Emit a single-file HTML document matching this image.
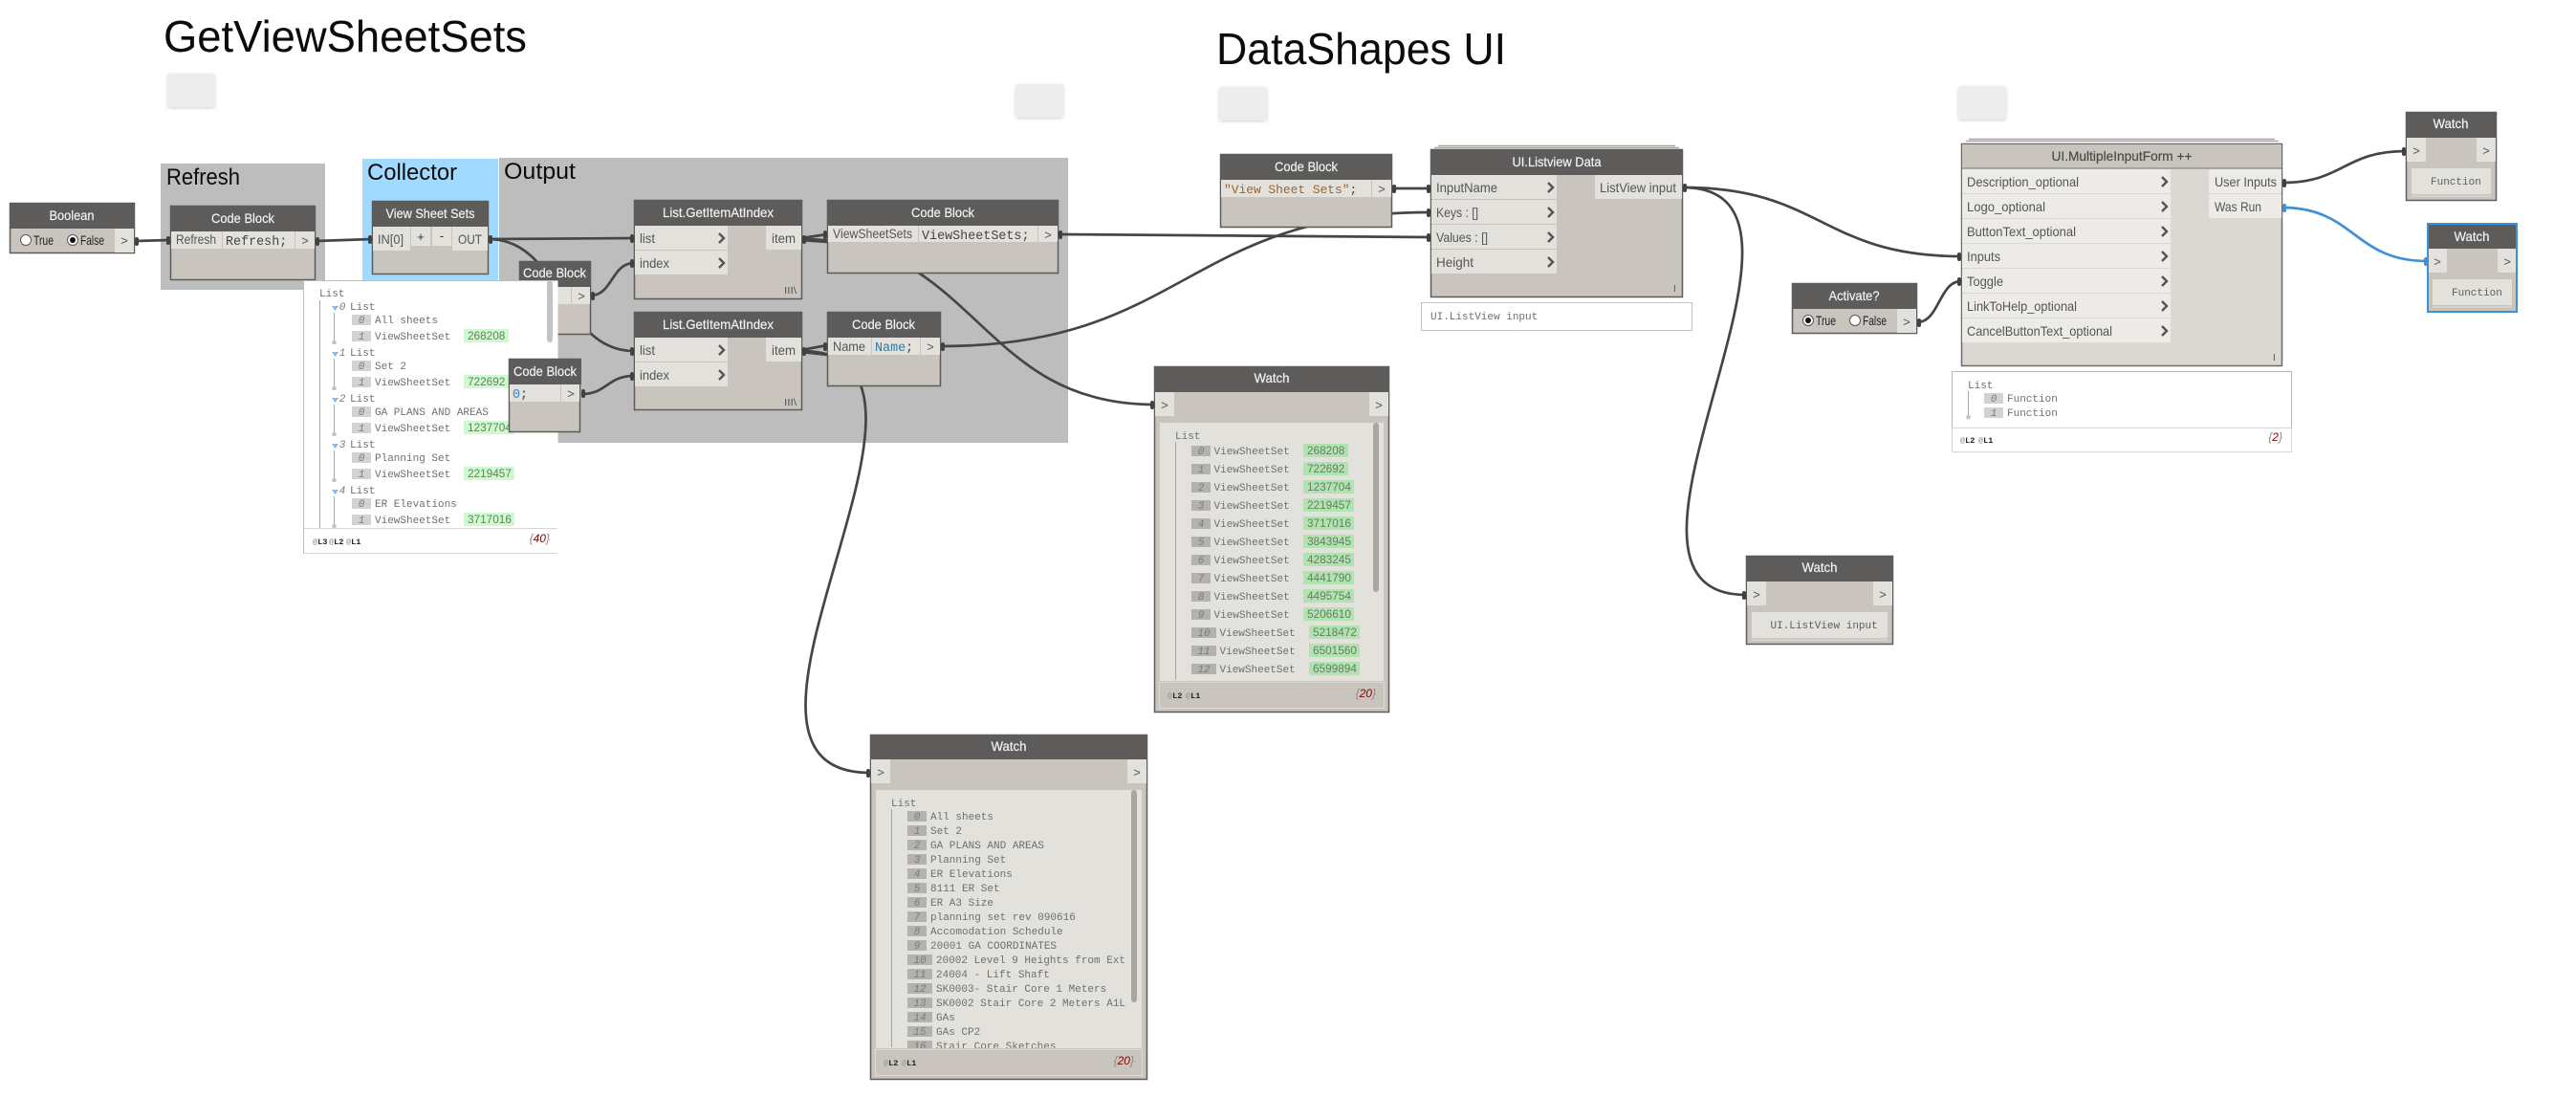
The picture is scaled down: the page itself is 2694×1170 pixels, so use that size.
<!DOCTYPE html>
<html><head><meta charset="utf-8"><title>GetViewSheetSets</title>
<style>
html,body{margin:0;padding:0;background:#fff;overflow:hidden}
svg{display:block}
text{white-space:pre}
.t{font:46px "Liberation Sans",sans-serif;fill:#0c0c0c}
.g{font:24px "Liberation Sans",sans-serif;fill:#0c0c0c}
.h{font:14px "Liberation Sans",sans-serif;fill:#f2f2f2;text-anchor:middle;stroke:#f2f2f2;stroke-width:.2}
.p{font:14px "Liberation Sans",sans-serif;fill:#555}
.a{font:13px "Liberation Sans",sans-serif;fill:#555;text-anchor:middle}
.c{font:13.4px "Liberation Mono",monospace;fill:#444}
.m{font:11px "Liberation Mono",monospace;fill:#6f6f6f}
.n{font:italic 11px "Liberation Mono",monospace;fill:#7a7a7a;text-anchor:middle}
.v{font:11.8px "Liberation Sans",sans-serif;fill:#6a7a6a}
.l{font:bold 8.5px "Liberation Mono",monospace;fill:#222}
.r{font:italic 12px "Liberation Sans",sans-serif;fill:#8b0000;text-anchor:end}
.b{fill:#c9c5be;stroke:#5e5c5a;stroke-width:1.5}
.hd{fill:#5e5c5a}
.e{fill:#e3e1dc}
.w{fill:none;stroke:#454545;stroke-width:2.7}
.pin{fill:#414141}
.chev{fill:none;stroke:#555;stroke-width:2.4}
.bx{fill:#b4b2ae}
.bxl{fill:#d2d2d2}
.gr{fill:#b0e4ae}
.grl{fill:#ccfccc}
.ln{stroke:#a5a5a5;stroke-width:1;fill:none}
</style></head><body>
<svg width="2694" height="1170" viewBox="0 0 2694 1170" xmlns="http://www.w3.org/2000/svg">
<defs>
<filter id="s" x="-20%" y="-20%" width="140%" height="140%"><feDropShadow dx="0" dy="1" stdDeviation="1.5" flood-color="#000" flood-opacity=".18"/></filter>
<clipPath id="c1"><rect x="318" y="294" width="265" height="258"/></clipPath>
<clipPath id="c2"><rect x="916" y="826" width="278" height="270"/></clipPath>
</defs>

<!-- titles -->
<text class="t" x="171" y="54" textLength="380" lengthAdjust="spacingAndGlyphs">GetViewSheetSets</text>
<text class="t" x="1272" y="67" textLength="303" lengthAdjust="spacingAndGlyphs">DataShapes UI</text>
<rect x="175" y="77" width="50" height="35" rx="3" fill="#ededed" filter="url(#s)"/>
<rect x="1062" y="88" width="50" height="35" rx="3" fill="#ededed" filter="url(#s)"/>
<rect x="1275" y="91" width="50" height="35" rx="3" fill="#ededed" filter="url(#s)"/>
<rect x="2048" y="90" width="50" height="35" rx="3" fill="#ededed" filter="url(#s)"/>

<!-- groups -->
<rect x="168" y="171" width="172" height="132" fill="#bdbdbd"/>
<rect x="379" y="166" width="142" height="128" fill="#a2d9fe"/>
<rect x="522" y="165" width="595" height="298" fill="#bdbdbd"/>
<text class="g" x="174" y="193" textLength="77" lengthAdjust="spacingAndGlyphs">Refresh</text>
<text class="g" x="384" y="188" textLength="94" lengthAdjust="spacingAndGlyphs">Collector</text>
<text class="g" x="527" y="187" textLength="75" lengthAdjust="spacingAndGlyphs">Output</text>

<!-- wires -->
<path class="w" d="M141 252 L178 251"/>
<path class="w" d="M330 252 L389 250"/>
<path class="w" d="M511 250 L663 249"/>
<path class="w" d="M511 250 C587 250 587 367 663 367"/>
<path class="w" d="M618 309 C640 309 640 275 663 275"/>
<path class="w" d="M608 412 C635 412 635 393 663 393"/>
<path class="w" d="M838 249 L865 245"/>
<path class="w" d="M838 251 L866 253"/>
<path class="w" d="M838 366 L865 361"/>
<path class="w" d="M838 368 L866 371"/>
<path class="w" d="M1107 245 L1495 248"/>
<path class="w" d="M838 250 C1022 250 1022 423 1207 423"/>
<path class="w" d="M984 362 C1239 362 1240 222 1495 222"/>
<path class="w" d="M838 367 C1038 367 710 808 910 808"/>
<path class="w" d="M1456 197 L1496 197"/>
<path class="w" d="M1760 196 C1905 196 1905 268 2051 268"/>
<path class="w" d="M1760 196 C1944 196 1642 622 1826 622"/>
<path class="w" d="M2005 337 C2028 337 2028 294 2051 294"/>
<path class="w" d="M2387 191 C2451 191 2451 158 2516 158"/>
<path class="w" d="M2387 217 C2462 217 2462 273 2538 273" style="stroke:#3e90d9"/>

<!-- Boolean -->
<rect class="b" x="10.5" y="212.5" width="130" height="52"/><rect class="hd" x="10" y="212" width="131" height="27"/>
<text class="h" x="75" y="230" textLength="47" lengthAdjust="spacingAndGlyphs">Boolean</text>
<circle cx="27" cy="251" r="5.5" fill="#fff" stroke="#555"/><text class="p" x="35" y="256" textLength="21" lengthAdjust="spacingAndGlyphs" style="fill:#222">True</text>
<circle cx="76" cy="251" r="5.5" fill="#fff" stroke="#555"/><circle cx="76" cy="251" r="3" fill="#111"/><text class="p" x="84" y="256" textLength="25" lengthAdjust="spacingAndGlyphs" style="fill:#222">False</text>
<rect class="e" x="120" y="239" width="20" height="25"/><text class="a" x="130" y="256">&gt;</text>

<!-- Code Block Refresh -->
<rect class="b" x="178.5" y="215.5" width="151" height="77"/><rect class="hd" x="178" y="215" width="152" height="27"/>
<text class="h" x="254" y="233" textLength="66" lengthAdjust="spacingAndGlyphs">Code Block</text>
<rect class="e" x="179" y="242" width="53" height="18"/><rect class="e" x="233" y="242" width="75" height="18"/><rect class="e" x="309" y="242" width="20" height="18"/>
<text class="p" x="184" y="255" textLength="42" lengthAdjust="spacingAndGlyphs">Refresh</text>
<text class="c" x="236" y="256">Refresh;</text><text class="a" x="319" y="256">&gt;</text>

<!-- View Sheet Sets -->
<rect class="b" x="389.5" y="210.5" width="121" height="76"/><rect class="hd" x="389" y="210" width="122" height="27"/>
<text class="h" x="450" y="228" textLength="93" lengthAdjust="spacingAndGlyphs">View Sheet Sets</text>
<rect class="e" x="390" y="237" width="39" height="25"/><rect class="e" x="430" y="237" width="20" height="20"/><rect class="e" x="452" y="237" width="20" height="20"/><rect class="e" x="473" y="237" width="37" height="25"/>
<text class="p" x="395" y="255" textLength="27" lengthAdjust="spacingAndGlyphs">IN[0]</text>
<text class="a" x="440" y="252" style="fill:#333">+</text><text class="a" x="462" y="251" style="fill:#333">-</text>
<text class="p" x="479" y="255" textLength="25" lengthAdjust="spacingAndGlyphs">OUT</text>

<!-- hidden Code Block -->
<rect class="b" x="543.5" y="273.5" width="74" height="76"/><rect class="hd" x="543" y="273" width="75" height="27"/>
<text class="h" x="580" y="290" textLength="66" lengthAdjust="spacingAndGlyphs">Code Block</text>
<rect class="e" x="560" y="300" width="37" height="18"/><rect class="e" x="598" y="300" width="19" height="18"/><text class="a" x="608" y="314">&gt;</text>

<!-- List.GetItemAtIndex 1 -->
<rect class="b" x="663.5" y="209.5" width="175" height="103"/><rect class="hd" x="663" y="209" width="176" height="27"/>
<text class="h" x="751" y="227" textLength="116" lengthAdjust="spacingAndGlyphs">List.GetItemAtIndex</text>
<rect class="e" x="664" y="236" width="97" height="25"/><rect class="e" x="664" y="262" width="97" height="25"/><rect class="e" x="801" y="236" width="37" height="25"/>
<text class="p" x="669" y="254" textLength="16" lengthAdjust="spacingAndGlyphs">list</text>
<text class="p" x="669" y="280" textLength="31" lengthAdjust="spacingAndGlyphs">index</text>
<text class="p" x="807" y="254" textLength="25" lengthAdjust="spacingAndGlyphs">item</text>
<path class="chev" d="M752 244 l5 5 -5 5"/><path class="chev" d="M752 270 l5 5 -5 5"/>
<text class="p" x="820" y="307" style="font-size:10px" textLength="13" lengthAdjust="spacingAndGlyphs">III\</text>

<!-- List.GetItemAtIndex 2 -->
<rect class="b" x="663.5" y="326.5" width="175" height="102"/><rect class="hd" x="663" y="326" width="176" height="27"/>
<text class="h" x="751" y="344" textLength="116" lengthAdjust="spacingAndGlyphs">List.GetItemAtIndex</text>
<rect class="e" x="664" y="353" width="97" height="25"/><rect class="e" x="664" y="379" width="97" height="25"/><rect class="e" x="801" y="353" width="37" height="25"/>
<text class="p" x="669" y="371" textLength="16" lengthAdjust="spacingAndGlyphs">list</text>
<text class="p" x="669" y="397" textLength="31" lengthAdjust="spacingAndGlyphs">index</text>
<text class="p" x="807" y="371" textLength="25" lengthAdjust="spacingAndGlyphs">item</text>
<path class="chev" d="M752 361 l5 5 -5 5"/><path class="chev" d="M752 387 l5 5 -5 5"/>
<text class="p" x="820" y="424" style="font-size:10px" textLength="13" lengthAdjust="spacingAndGlyphs">III\</text>

<!-- Code Block ViewSheetSets -->
<rect class="b" x="865.5" y="209.5" width="241" height="76"/><rect class="hd" x="865" y="209" width="242" height="27"/>
<text class="h" x="986" y="227" textLength="66" lengthAdjust="spacingAndGlyphs">Code Block</text>
<rect class="e" x="866" y="236" width="94" height="17"/><rect class="e" x="961" y="236" width="124" height="17"/><rect class="e" x="1086" y="236" width="20" height="17"/>
<text class="p" x="871" y="249" textLength="83" lengthAdjust="spacingAndGlyphs">ViewSheetSets</text>
<text class="c" x="964" y="250">ViewSheetSets;</text><text class="a" x="1096" y="250">&gt;</text>

<!-- Code Block Name -->
<rect class="b" x="865.5" y="326.5" width="118" height="77"/><rect class="hd" x="865" y="326" width="119" height="27"/>
<text class="h" x="924" y="344" textLength="66" lengthAdjust="spacingAndGlyphs">Code Block</text>
<rect class="e" x="866" y="353" width="45" height="18"/><rect class="e" x="912" y="353" width="50" height="18"/><rect class="e" x="963" y="353" width="20" height="18"/>
<text class="p" x="871" y="367" textLength="34" lengthAdjust="spacingAndGlyphs">Name</text>
<text class="c" x="915" y="367"><tspan fill="#2f7a9e">Name</tspan>;</text><text class="a" x="973" y="367">&gt;</text>

<!-- left preview -->
<rect x="317.5" y="293.5" width="266" height="285" fill="#fff"/>
<path d="M583 293.5 H317.5 V578.5 H583" fill="none" stroke="#bdbdbd"/>
<path d="M318 552.5 H583" stroke="#d5d5d5"/><path d="M318 578.5 H583" stroke="#d5d5d5"/>
<g clip-path="url(#c1)">
<text class="m" x="334" y="310">List</text><path class="ln" d="M334.500 314 V552"/>
<g id="g0"><polygon points="347,320 354,320 350.500,325" fill="#8db8de"/><text class="n" x="358" y="324">0</text><text class="m" x="366" y="324">List</text><path class="ln" d="M349.500 327 V358"/><circle cx="349.500" cy="358" r="2.300" fill="#c0c0c0"/><rect class="bxl" x="368" y="329" width="20" height="11"/><text class="n" x="378" y="338">0</text><text class="m" x="392" y="338">All sheets</text><rect class="bxl" x="368" y="346" width="20" height="11"/><text class="n" x="378" y="355">1</text><text class="m" x="392" y="355">ViewSheetSet</text><rect class="grl" x="485" y="344" width="47" height="14"/><text class="v" x="489" y="355">268208</text></g>
<g><polygon points="347,368 354,368 350.500,373" fill="#8db8de"/><text class="n" x="358" y="372">1</text><text class="m" x="366" y="372">List</text><path class="ln" d="M349.500 375 V406"/><circle cx="349.500" cy="406" r="2.300" fill="#c0c0c0"/><rect class="bxl" x="368" y="377" width="20" height="11"/><text class="n" x="378" y="386">0</text><text class="m" x="392" y="386">Set 2</text><rect class="bxl" x="368" y="394" width="20" height="11"/><text class="n" x="378" y="403">1</text><text class="m" x="392" y="403">ViewSheetSet</text><rect class="grl" x="485" y="392" width="47" height="14"/><text class="v" x="489" y="403">722692</text></g>
<g><polygon points="347,416 354,416 350.500,421" fill="#8db8de"/><text class="n" x="358" y="420">2</text><text class="m" x="366" y="420">List</text><path class="ln" d="M349.500 423 V454"/><circle cx="349.500" cy="454" r="2.300" fill="#c0c0c0"/><rect class="bxl" x="368" y="425" width="20" height="11"/><text class="n" x="378" y="434">0</text><text class="m" x="392" y="434">GA PLANS AND AREAS</text><rect class="bxl" x="368" y="442" width="20" height="11"/><text class="n" x="378" y="451">1</text><text class="m" x="392" y="451">ViewSheetSet</text><rect class="grl" x="485" y="440" width="53" height="14"/><text class="v" x="489" y="451">1237704</text></g>
<g><polygon points="347,464 354,464 350.500,469" fill="#8db8de"/><text class="n" x="358" y="468">3</text><text class="m" x="366" y="468">List</text><path class="ln" d="M349.500 471 V502"/><circle cx="349.500" cy="502" r="2.300" fill="#c0c0c0"/><rect class="bxl" x="368" y="473" width="20" height="11"/><text class="n" x="378" y="482">0</text><text class="m" x="392" y="482">Planning Set</text><rect class="bxl" x="368" y="490" width="20" height="11"/><text class="n" x="378" y="499">1</text><text class="m" x="392" y="499">ViewSheetSet</text><rect class="grl" x="485" y="488" width="53" height="14"/><text class="v" x="489" y="499">2219457</text></g>
<g><polygon points="347,512 354,512 350.500,517" fill="#8db8de"/><text class="n" x="358" y="516">4</text><text class="m" x="366" y="516">List</text><path class="ln" d="M349.500 519 V550"/><circle cx="349.500" cy="550" r="2.300" fill="#c0c0c0"/><rect class="bxl" x="368" y="521" width="20" height="11"/><text class="n" x="378" y="530">0</text><text class="m" x="392" y="530">ER Elevations</text><rect class="bxl" x="368" y="538" width="20" height="11"/><text class="n" x="378" y="547">1</text><text class="m" x="392" y="547">ViewSheetSet</text><rect class="grl" x="485" y="536" width="53" height="14"/><text class="v" x="489" y="547">3717016</text></g>
</g>
<rect x="572" y="293" width="6" height="65" rx="3" fill="#c3c3c3"/>
<text class="l" x="327" y="569"><tspan fill="#999">@</tspan>L3</text><text class="l" x="344" y="569"><tspan fill="#999">@</tspan>L2</text><text class="l" x="362" y="569"><tspan fill="#999">@</tspan>L1</text>
<text class="r" x="575" y="567"><tspan fill="#888">{</tspan>40<tspan fill="#888">}</tspan></text>

<!-- Code Block 0 -->
<rect class="b" x="532.5" y="375.5" width="74" height="76"/><rect class="hd" x="532" y="375" width="76" height="27"/>
<text class="h" x="570" y="393" textLength="66" lengthAdjust="spacingAndGlyphs">Code Block</text>
<rect class="e" x="533" y="402" width="53" height="18"/><rect class="e" x="587" y="402" width="19" height="18"/>
<text class="c" x="536" y="416"><tspan fill="#2c86e0">0</tspan>;</text><text class="a" x="597" y="416">&gt;</text>

<!-- Watch 1 -->
<rect class="b" x="1207.500" y="383.500" width="245" height="361"/><rect class="hd" x="1207" y="383" width="246" height="27"/>
<text class="h" x="1330" y="400" textLength="37" lengthAdjust="spacingAndGlyphs">Watch</text>
<rect class="e" x="1208" y="410" width="20" height="25"/><rect class="e" x="1432" y="410" width="20" height="25"/>
<text class="a" x="1218" y="428">&gt;</text><text class="a" x="1442" y="428">&gt;</text>
<rect class="e" x="1213" y="442" width="234" height="270"/>
<rect x="1436" y="442" width="6" height="177" rx="3" fill="#a8a6a1"/>
<text class="m" x="1229" y="459">List</text><path class="ln" d="M1229.500 462 V711"/>
<g>
<rect class="bx" x="1246" y="466" width="20" height="11"/><text class="n" x="1256" y="475">0</text><text class="m" x="1269.500" y="475">ViewSheetSet</text><rect class="gr" x="1363" y="464" width="47" height="14"/><text class="v" x="1367" y="475">268208</text>
<rect class="bx" x="1246" y="485" width="20" height="11"/><text class="n" x="1256" y="494">1</text><text class="m" x="1269.500" y="494">ViewSheetSet</text><rect class="gr" x="1363" y="483" width="47" height="14"/><text class="v" x="1367" y="494">722692</text>
<rect class="bx" x="1246" y="504" width="20" height="11"/><text class="n" x="1256" y="513">2</text><text class="m" x="1269.500" y="513">ViewSheetSet</text><rect class="gr" x="1363" y="502" width="53" height="14"/><text class="v" x="1367" y="513">1237704</text>
<rect class="bx" x="1246" y="523" width="20" height="11"/><text class="n" x="1256" y="532">3</text><text class="m" x="1269.500" y="532">ViewSheetSet</text><rect class="gr" x="1363" y="521" width="53" height="14"/><text class="v" x="1367" y="532">2219457</text>
<rect class="bx" x="1246" y="542" width="20" height="11"/><text class="n" x="1256" y="551">4</text><text class="m" x="1269.500" y="551">ViewSheetSet</text><rect class="gr" x="1363" y="540" width="53" height="14"/><text class="v" x="1367" y="551">3717016</text>
<rect class="bx" x="1246" y="561" width="20" height="11"/><text class="n" x="1256" y="570">5</text><text class="m" x="1269.500" y="570">ViewSheetSet</text><rect class="gr" x="1363" y="559" width="53" height="14"/><text class="v" x="1367" y="570">3843945</text>
<rect class="bx" x="1246" y="580" width="20" height="11"/><text class="n" x="1256" y="589">6</text><text class="m" x="1269.500" y="589">ViewSheetSet</text><rect class="gr" x="1363" y="578" width="53" height="14"/><text class="v" x="1367" y="589">4283245</text>
<rect class="bx" x="1246" y="599" width="20" height="11"/><text class="n" x="1256" y="608">7</text><text class="m" x="1269.500" y="608">ViewSheetSet</text><rect class="gr" x="1363" y="597" width="53" height="14"/><text class="v" x="1367" y="608">4441790</text>
<rect class="bx" x="1246" y="618" width="20" height="11"/><text class="n" x="1256" y="627">8</text><text class="m" x="1269.500" y="627">ViewSheetSet</text><rect class="gr" x="1363" y="616" width="53" height="14"/><text class="v" x="1367" y="627">4495754</text>
<rect class="bx" x="1246" y="637" width="20" height="11"/><text class="n" x="1256" y="646">9</text><text class="m" x="1269.500" y="646">ViewSheetSet</text><rect class="gr" x="1363" y="635" width="53" height="14"/><text class="v" x="1367" y="646">5206610</text>
<rect class="bx" x="1246" y="656" width="26" height="11"/><text class="n" x="1259" y="665">10</text><text class="m" x="1275.500" y="665">ViewSheetSet</text><rect class="gr" x="1369" y="654" width="53" height="14"/><text class="v" x="1373" y="665">5218472</text>
<rect class="bx" x="1246" y="675" width="26" height="11"/><text class="n" x="1259" y="684">11</text><text class="m" x="1275.500" y="684">ViewSheetSet</text><rect class="gr" x="1369" y="673" width="53" height="14"/><text class="v" x="1373" y="684">6501560</text>
<rect class="bx" x="1246" y="694" width="26" height="11"/><text class="n" x="1259" y="703">12</text><text class="m" x="1275.500" y="703">ViewSheetSet</text><rect class="gr" x="1369" y="692" width="53" height="14"/><text class="v" x="1373" y="703">6599894</text>
</g>
<rect x="1212.500" y="713.500" width="235" height="27" fill="#c9c5be" stroke="#dcdad6"/>
<text class="l" x="1221" y="730"><tspan fill="#999">@</tspan>L2</text><text class="l" x="1240" y="730"><tspan fill="#999">@</tspan>L1</text>
<text class="r" x="1439" y="729"><tspan fill="#888">{</tspan>20<tspan fill="#888">}</tspan></text>

<!-- Watch 2 -->
<rect class="b" x="910.500" y="768.500" width="289" height="360"/><rect class="hd" x="910" y="768" width="290" height="26"/>
<text class="h" x="1055" y="785" textLength="37" lengthAdjust="spacingAndGlyphs">Watch</text>
<rect class="e" x="911" y="794" width="20" height="25"/><rect class="e" x="1179" y="794" width="20" height="25"/>
<text class="a" x="921" y="812">&gt;</text><text class="a" x="1189" y="812">&gt;</text>
<rect class="e" x="916" y="826" width="278" height="270"/>
<rect x="1183" y="826" width="6" height="222" rx="3" fill="#a8a6a1"/>
<text class="m" x="932" y="843">List</text><path class="ln" d="M932.500 846 V1095"/>
<g clip-path="url(#c2)">
<rect class="bx" x="949" y="848" width="20" height="11"/><text class="n" x="959" y="857">0</text><text class="m" x="973" y="857">All sheets</text>
<rect class="bx" x="949" y="863" width="20" height="11"/><text class="n" x="959" y="872">1</text><text class="m" x="973" y="872">Set 2</text>
<rect class="bx" x="949" y="878" width="20" height="11"/><text class="n" x="959" y="887">2</text><text class="m" x="973" y="887">GA PLANS AND AREAS</text>
<rect class="bx" x="949" y="893" width="20" height="11"/><text class="n" x="959" y="902">3</text><text class="m" x="973" y="902">Planning Set</text>
<rect class="bx" x="949" y="908" width="20" height="11"/><text class="n" x="959" y="917">4</text><text class="m" x="973" y="917">ER Elevations</text>
<rect class="bx" x="949" y="923" width="20" height="11"/><text class="n" x="959" y="932">5</text><text class="m" x="973" y="932">8111 ER Set</text>
<rect class="bx" x="949" y="938" width="20" height="11"/><text class="n" x="959" y="947">6</text><text class="m" x="973" y="947">ER A3 Size</text>
<rect class="bx" x="949" y="953" width="20" height="11"/><text class="n" x="959" y="962">7</text><text class="m" x="973" y="962">planning set rev 090616</text>
<rect class="bx" x="949" y="968" width="20" height="11"/><text class="n" x="959" y="977">8</text><text class="m" x="973" y="977">Accomodation Schedule</text>
<rect class="bx" x="949" y="983" width="20" height="11"/><text class="n" x="959" y="992">9</text><text class="m" x="973" y="992">20001 GA COORDINATES</text>
<rect class="bx" x="949" y="998" width="26" height="11"/><text class="n" x="962" y="1007">10</text><text class="m" x="979" y="1007">20002 Level 9 Heights from Ext</text>
<rect class="bx" x="949" y="1013" width="26" height="11"/><text class="n" x="962" y="1022">11</text><text class="m" x="979" y="1022">24004 - Lift Shaft</text>
<rect class="bx" x="949" y="1028" width="26" height="11"/><text class="n" x="962" y="1037">12</text><text class="m" x="979" y="1037">SK0003- Stair Core 1 Meters</text>
<rect class="bx" x="949" y="1043" width="26" height="11"/><text class="n" x="962" y="1052">13</text><text class="m" x="979" y="1052">SK0002 Stair Core 2 Meters A1L</text>
<rect class="bx" x="949" y="1058" width="26" height="11"/><text class="n" x="962" y="1067">14</text><text class="m" x="979" y="1067">GAs</text>
<rect class="bx" x="949" y="1073" width="26" height="11"/><text class="n" x="962" y="1082">15</text><text class="m" x="979" y="1082">GAs CP2</text>
<rect class="bx" x="949" y="1088" width="26" height="11"/><text class="n" x="962" y="1097">16</text><text class="m" x="979" y="1097">Stair Core Sketches</text>
</g>
<rect x="915.500" y="1097.500" width="279" height="27" fill="#c9c5be" stroke="#dcdad6"/>
<text class="l" x="924" y="1114"><tspan fill="#999">@</tspan>L2</text><text class="l" x="943" y="1114"><tspan fill="#999">@</tspan>L1</text>
<text class="r" x="1186" y="1113"><tspan fill="#888">{</tspan>20<tspan fill="#888">}</tspan></text>

<!-- Code Block string -->
<rect class="b" x="1276.500" y="161.500" width="179" height="76"/><rect class="hd" x="1276" y="161" width="180" height="27"/>
<text class="h" x="1366" y="179" textLength="66" lengthAdjust="spacingAndGlyphs">Code Block</text>
<rect class="e" x="1277" y="188" width="157" height="18"/><rect class="e" x="1435" y="188" width="20" height="18"/>
<text class="c" x="1280" y="202" style="font-size:12.9px"><tspan fill="#a0622a">"View Sheet Sets"</tspan>;</text><text class="a" x="1445" y="202">&gt;</text>

<!-- UI.Listview Data -->
<path d="M1504 152.500 H1752 M1500 154.500 H1756" stroke="#aaa8a2" stroke-width="1.500"/>
<rect class="b" x="1496.500" y="156.500" width="263" height="154"/><rect class="hd" x="1496" y="156" width="264" height="27"/>
<text class="h" x="1628" y="174" textLength="93" lengthAdjust="spacingAndGlyphs">UI.Listview Data</text>
<rect class="e" x="1497" y="183" width="131" height="25"/><rect class="e" x="1497" y="209" width="131" height="25"/><rect class="e" x="1497" y="235" width="131" height="25"/><rect class="e" x="1497" y="261" width="131" height="25"/><rect class="e" x="1668" y="183" width="91" height="25"/>
<text class="p" x="1502" y="201" textLength="64" lengthAdjust="spacingAndGlyphs">InputName</text>
<text class="p" x="1502" y="227" textLength="44" lengthAdjust="spacingAndGlyphs">Keys : []</text>
<text class="p" x="1502" y="253" textLength="54" lengthAdjust="spacingAndGlyphs">Values : []</text>
<text class="p" x="1502" y="279" textLength="39" lengthAdjust="spacingAndGlyphs">Height</text>
<text class="p" x="1673" y="201" textLength="80" lengthAdjust="spacingAndGlyphs">ListView input</text>
<path class="chev" d="M1619 191 l5 5 -5 5"/><path class="chev" d="M1619 217 l5 5 -5 5"/><path class="chev" d="M1619 243 l5 5 -5 5"/><path class="chev" d="M1619 269 l5 5 -5 5"/>
<text class="p" x="1750" y="305" style="font-size:10px">I</text>
<rect x="1486.500" y="316.500" width="283" height="29" fill="#fff" stroke="#c4c4c4"/>
<text class="m" x="1496" y="334">UI.ListView input</text>

<!-- Watch 3 -->
<rect class="b" x="1826.500" y="581.500" width="153" height="92"/><rect class="hd" x="1826" y="581" width="154" height="27"/>
<text class="h" x="1903" y="598" textLength="37" lengthAdjust="spacingAndGlyphs">Watch</text>
<rect class="e" x="1827" y="608" width="20" height="25"/><rect class="e" x="1959" y="608" width="20" height="25"/>
<text class="a" x="1837" y="626">&gt;</text><text class="a" x="1969" y="626">&gt;</text>
<rect class="e" x="1832" y="640" width="142" height="27"/><rect x="1832" y="668" width="142" height="2" fill="#d5d3ce"/>
<text class="m" x="1851.500" y="657" style="fill:#5e5e5e">UI.ListView input</text>

<!-- Activate -->
<rect class="b" x="1874.500" y="296.500" width="130" height="52"/><rect class="hd" x="1874" y="296" width="131" height="27"/>
<text class="h" x="1939" y="314" textLength="53" lengthAdjust="spacingAndGlyphs">Activate?</text>
<circle cx="1891" cy="335" r="5.500" fill="#fff" stroke="#555"/><circle cx="1891" cy="335" r="3" fill="#111"/><text class="p" x="1899" y="340" textLength="21" lengthAdjust="spacingAndGlyphs" style="fill:#222">True</text>
<circle cx="1940" cy="335" r="5.500" fill="#fff" stroke="#555"/><text class="p" x="1948" y="340" textLength="25" lengthAdjust="spacingAndGlyphs" style="fill:#222">False</text>
<rect class="e" x="1984" y="323" width="20" height="25"/><text class="a" x="1994" y="341">&gt;</text>

<!-- UI.MultipleInputForm ++ -->
<path d="M2059 145.500 H2379 M2056 147.500 H2383" stroke="#aaa8a2" stroke-width="1.500"/>
<rect x="2051.500" y="150.500" width="335" height="232" fill="#dbd8d2" stroke="#6d6b68" stroke-width="1.500"/>
<rect x="2052" y="151" width="334" height="25" fill="#c9c5be"/><path d="M2052 176 H2386" stroke="#7a7875"/>
<text class="h" x="2219" y="168" textLength="147" lengthAdjust="spacingAndGlyphs" style="fill:#4a4a4a;stroke:#4a4a4a">UI.MultipleInputForm ++</text>
<g fill="#ecebe8"><rect x="2052" y="177" width="218" height="25"/><rect x="2052" y="203" width="218" height="25"/><rect x="2052" y="229" width="218" height="25"/><rect x="2052" y="255" width="218" height="25"/><rect x="2052" y="281" width="218" height="25"/><rect x="2052" y="307" width="218" height="25"/><rect x="2052" y="333" width="218" height="25"/><rect x="2310" y="177" width="76" height="25"/><rect x="2310" y="203" width="76" height="25"/></g>
<text class="p" x="2057" y="195" textLength="117" lengthAdjust="spacingAndGlyphs">Description_optional</text>
<text class="p" x="2057" y="221" textLength="82" lengthAdjust="spacingAndGlyphs">Logo_optional</text>
<text class="p" x="2057" y="247" textLength="114" lengthAdjust="spacingAndGlyphs">ButtonText_optional</text>
<text class="p" x="2057" y="273" textLength="35" lengthAdjust="spacingAndGlyphs">Inputs</text>
<text class="p" x="2057" y="299" textLength="38" lengthAdjust="spacingAndGlyphs">Toggle</text>
<text class="p" x="2057" y="325" textLength="115" lengthAdjust="spacingAndGlyphs">LinkToHelp_optional</text>
<text class="p" x="2057" y="351" textLength="152" lengthAdjust="spacingAndGlyphs">CancelButtonText_optional</text>
<text class="p" x="2316" y="195" textLength="65" lengthAdjust="spacingAndGlyphs">User Inputs</text>
<text class="p" x="2316" y="221" textLength="49" lengthAdjust="spacingAndGlyphs">Was Run</text>
<path class="chev" d="M2261 185 l5 5 -5 5"/><path class="chev" d="M2261 211 l5 5 -5 5"/><path class="chev" d="M2261 237 l5 5 -5 5"/><path class="chev" d="M2261 263 l5 5 -5 5"/><path class="chev" d="M2261 289 l5 5 -5 5"/><path class="chev" d="M2261 315 l5 5 -5 5"/><path class="chev" d="M2261 341 l5 5 -5 5"/>
<text class="p" x="2377" y="377" style="font-size:10px">I</text>
<rect x="2041.500" y="388.500" width="355" height="84" fill="#fff" stroke="#d5d5d5"/>
<path d="M2041.500 447 V388.500 H2396.500 V447" fill="none" stroke="#b5b5b5"/><path d="M2041 447.500 H2397" stroke="#d5d5d5"/>
<text class="m" x="2058" y="406">List</text><path class="ln" d="M2058.500 409 V435"/><circle cx="2058.500" cy="436" r="2.300" fill="#c0c0c0"/>
<rect class="bxl" x="2075" y="411" width="20" height="11"/><text class="n" x="2085" y="420">0</text><text class="m" x="2099" y="420">Function</text>
<rect class="bxl" x="2075" y="426" width="20" height="11"/><text class="n" x="2085" y="435">1</text><text class="m" x="2099" y="435">Function</text>
<text class="l" x="2050" y="463"><tspan fill="#999">@</tspan>L2</text><text class="l" x="2069" y="463"><tspan fill="#999">@</tspan>L1</text>
<text class="r" x="2387" y="461"><tspan fill="#888">{</tspan>2<tspan fill="#888">}</tspan></text>

<!-- Watch A -->
<rect class="b" x="2516.500" y="117.500" width="94" height="92"/><rect class="hd" x="2516" y="117" width="95" height="27"/>
<text class="h" x="2563" y="134" textLength="37" lengthAdjust="spacingAndGlyphs">Watch</text>
<rect class="e" x="2517" y="144" width="20" height="25"/><rect class="e" x="2590" y="144" width="20" height="25"/>
<text class="a" x="2527" y="162">&gt;</text><text class="a" x="2600" y="162">&gt;</text>
<rect class="e" x="2522" y="176" width="83" height="27"/><rect x="2522" y="204" width="83" height="2" fill="#d5d3ce"/>
<text class="m" x="2542" y="193" style="fill:#5e5e5e">Function</text>

<!-- Watch B -->
<rect class="b" x="2539" y="234" width="93" height="92" style="stroke:#3e90d9;stroke-width:2"/><rect class="hd" x="2540" y="235" width="91" height="25"/>
<text class="h" x="2585" y="252" textLength="37" lengthAdjust="spacingAndGlyphs">Watch</text>
<rect class="e" x="2540" y="260" width="19" height="25"/><rect class="e" x="2612" y="260" width="19" height="25"/>
<text class="a" x="2549" y="278">&gt;</text><text class="a" x="2622" y="278">&gt;</text>
<rect class="e" x="2544" y="292" width="83" height="27"/><rect x="2544" y="320" width="83" height="2" fill="#d5d3ce"/>
<text class="m" x="2564" y="309" style="fill:#5e5e5e">Function</text>

<!-- pins -->
<g class="pin">
<rect x="141" y="248" width="4" height="9" rx="2"/><rect x="174" y="247" width="4" height="9" rx="2"/>
<rect x="330" y="248" width="4" height="9" rx="2"/><rect x="385" y="246" width="4" height="9" rx="2"/>
<rect x="511" y="246" width="4" height="9" rx="2"/><rect x="659" y="245" width="4" height="9" rx="2"/>
<rect x="659" y="271" width="4" height="9" rx="2"/><rect x="659" y="363" width="4" height="9" rx="2"/><rect x="659" y="389" width="4" height="9" rx="2"/>
<rect x="618" y="305" width="4" height="9" rx="2"/><rect x="608" y="407" width="4" height="9" rx="2"/>
<rect x="839" y="246" width="4" height="9" rx="2"/><rect x="861" y="241" width="4" height="9" rx="2"/>
<rect x="839" y="363" width="4" height="9" rx="2"/><rect x="861" y="358" width="4" height="9" rx="2"/>
<rect x="1107" y="241" width="4" height="9" rx="2"/><rect x="984" y="358" width="4" height="9" rx="2"/>
<rect x="1203" y="419" width="4" height="9" rx="2"/><rect x="906" y="804" width="4" height="9" rx="2"/>
<rect x="1456" y="193" width="4" height="9" rx="2"/><rect x="1492" y="193" width="4" height="9" rx="2"/>
<rect x="1492" y="218" width="4" height="9" rx="2"/><rect x="1492" y="244" width="4" height="9" rx="2"/>
<rect x="1760" y="192" width="4" height="9" rx="2"/><rect x="1822" y="618" width="4" height="9" rx="2"/>
<rect x="2005" y="333" width="4" height="9" rx="2"/><rect x="2047" y="264" width="4" height="9" rx="2"/><rect x="2047" y="290" width="4" height="9" rx="2"/>
<rect x="2387" y="187" width="4" height="9" rx="2"/><rect x="2512" y="154" width="4" height="9" rx="2"/>
</g>
<rect x="2387" y="213" width="4" height="9" rx="2" fill="#3e90d9"/><rect x="2535" y="269" width="4" height="9" rx="2" fill="#3e90d9"/>
</svg>
</body></html>
